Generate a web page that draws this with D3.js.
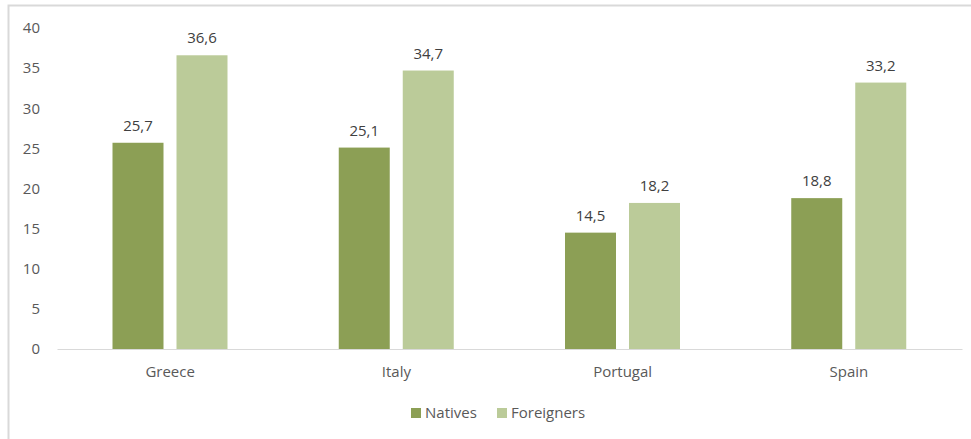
<!DOCTYPE html>
<html><head><meta charset="utf-8">
<script src="https://cdn.jsdelivr.net/npm/d3@7"></script>
<style>
html,body{margin:0;padding:0;background:#fff;}
text{font-family:"Open Sans",sans-serif;}
</style></head>
<body>
<svg id="c" width="971" height="439"></svg>
<script>
const categories = ["Greece","Italy","Portugal","Spain"];
const seriesNames = ["Natives","Foreigners"];
const natives = [25.7,25.1,14.5,18.8];
const foreigners = [36.6,34.7,18.2,33.2];
const yTicks = [0,5,10,15,20,25,30,35,40];
const colors = ["#8c9f55","#bbcb99"];
const seriesValues = [natives, foreigners];

const svg = d3.select("#c");
svg.append("rect").attr("x",8.5).attr("y",5.5).attr("width",970).attr("height",450)
  .attr("fill","#fff").attr("stroke","#d9d9d9").attr("stroke-width",2);

const pLeft=57, pRight=962, pTop=28, pBottom=349;
const x0 = d3.scaleBand().domain(categories).range([pLeft,pRight]).padding(0);
const x1 = d3.scaleBand().domain(seriesNames).range([55.5,170.5]).paddingInner(13/64).paddingOuter(0);
const y = d3.scaleLinear().domain([0,40]).range([pBottom,pTop]);

// y axis
const ya = svg.append("g").attr("transform",`translate(${pLeft},0)`)
  .call(d3.axisLeft(y).tickValues(yTicks).tickSize(0).tickPadding(17).tickFormat(d3.format("d")));
ya.select(".domain").remove();
ya.selectAll("text").attr("fill","#595959").style("font-size","15px").style("font-family","Open Sans");

// bars
categories.forEach((c,i)=>{
  seriesNames.forEach((s,j)=>{
    const v = seriesValues[j][i];
    const bx = x0(c)+x1(s);
    svg.append("rect").attr("x",bx).attr("y",y(v)).attr("width",x1.bandwidth())
      .attr("height",y(0)-y(v)).attr("fill",colors[j]);
    svg.append("text").attr("x",bx+x1.bandwidth()/2).attr("y",y(v)-12)
      .attr("text-anchor","middle").attr("fill","#404040").style("font-size","15px")
      .text(String(v).replace(".",","));
  });
});

// x axis
const xa = svg.append("g").attr("transform",`translate(0,${pBottom})`)
  .call(d3.axisBottom(x0).tickSize(0).tickPadding(17));
xa.select(".domain").attr("stroke","#d9d9d9").attr("stroke-width",1);
xa.selectAll("text").attr("fill","#595959").style("font-size","15px").style("font-family","Open Sans");

// legend
const lg = svg.append("g");
const legX = [411,497];
seriesNames.forEach((s,j)=>{
  lg.append("rect").attr("x",legX[j]).attr("y",408).attr("width",10).attr("height",10).attr("fill",colors[j]);
  lg.append("text").attr("x",legX[j]+14).attr("y",418).attr("fill","#595959").style("font-size","15px").text(s);
});
</script>
</body></html>
